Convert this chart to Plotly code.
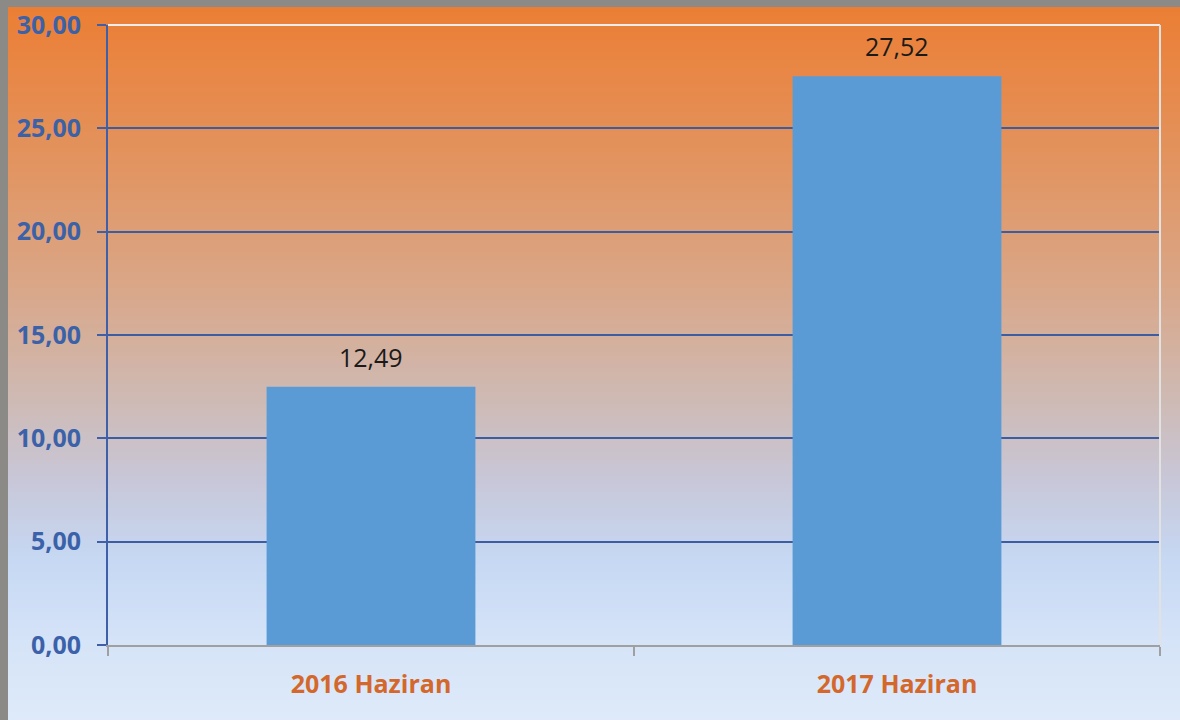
import plotly.graph_objects as go

categories = ["2016 Haziran", "2017 Haziran"]
values = [12.49, 27.52]
y_ticks = [0, 5, 10, 15, 20, 25, 30]

W, H = 1180, 720
L, R, T, B = 108, 20, 25, 75
pw, ph = W - L - R, H - T - B

def px_x(px):
    return (px - L) / pw

def px_y(py):
    return (H - B - py) / ph

stops = [
    (0, (236, 125, 50)),
    (150, (227, 146, 92)),
    (290, (217, 167, 137)),
    (400, (206, 186, 180)),
    (480, (200, 199, 216)),
    (560, (198, 216, 243)),
    (645, (214, 228, 248)),
    (720, (222, 234, 249)),
]

def col_at(py):
    for (a, ca), (b, cb) in zip(stops[:-1], stops[1:]):
        if a <= py <= b:
            t = (py - a) / (b - a)
            c = [round(ca[i] + (cb[i] - ca[i]) * t) for i in range(3)]
            return f"rgb({c[0]},{c[1]},{c[2]})"
    return "rgb(222,234,249)"

shapes = []
step = 4
for py in range(0, H, step):
    shapes.append(dict(type="rect", xref="paper", yref="paper", layer="below",
                       x0=px_x(-2), x1=px_x(W + 2), y0=px_y(py + step + 1), y1=px_y(py),
                       fillcolor=col_at(py + step / 2), line=dict(width=0)))
# gray outer frame (top and left)
shapes.append(dict(type="rect", xref="paper", yref="paper", layer="above",
                   x0=px_x(-2), x1=px_x(W + 2), y0=px_y(7), y1=px_y(-2),
                   fillcolor="#8c8a87", line=dict(width=0)))
shapes.append(dict(type="rect", xref="paper", yref="paper", layer="above",
                   x0=px_x(-2), x1=px_x(8), y0=px_y(H + 2), y1=px_y(-2),
                   fillcolor="#8c8a87", line=dict(width=0)))
# light plot-area border (top and right)
shapes.append(dict(type="line", xref="paper", yref="paper", layer="above",
                   x0=0, x1=1, y0=1, y1=1, line=dict(color="#ececec", width=2)))
shapes.append(dict(type="line", xref="paper", yref="paper", layer="above",
                   x0=1, x1=1, y0=0, y1=1, line=dict(color="#e2e2e2", width=2)))

fig = go.Figure()
fig.add_trace(go.Bar(x=categories, y=values, marker=dict(color="#5b9bd5", line=dict(width=0)),
                     hoverinfo="skip"))

annotations = []
for c, v in zip(categories, values):
    annotations.append(dict(x=c, y=v, xref="x", yref="y", text=f"{v:.2f}".replace(".", ","),
                            showarrow=False, yanchor="middle", yshift=30,
                            font=dict(family="Open Sans, sans-serif", size=25, color="#1a1a1a")))

fig.update_layout(
    width=W, height=H,
    margin=dict(l=L, r=R, t=T, b=B, pad=0, autoexpand=False),
    paper_bgcolor="rgb(222,234,249)",
    plot_bgcolor="rgba(0,0,0,0)",
    separators=",.",
    bargap=0.603,
    showlegend=False,
    hovermode=False,
    shapes=shapes,
    annotations=annotations,
    xaxis=dict(type="category", automargin=False, showgrid=False, showline=True,
               linecolor="#a0a0a0", linewidth=2,
               ticks="outside", tickson="boundaries", ticklen=9, tickcolor="#a0a0a0", tickwidth=2,
               ticklabelstandoff=16,
               tickfont=dict(family="Open Sans, sans-serif", size=25, color="#d4682c", weight="bold")),
    yaxis=dict(range=[0, 30], tickvals=y_ticks, tickformat=".2f", automargin=False, showgrid=True,
               gridcolor="#3d5da3", gridwidth=2, zeroline=False,
               showline=True, linecolor="#3f60a8", linewidth=2,
               ticks="outside", ticklen=9, tickcolor="#3f60a8", tickwidth=2,
               ticklabelstandoff=11, ticklabeloverflow="allow",
               tickfont=dict(family="Open Sans, sans-serif", size=25, color="#3b62a8", weight="bold")),
)

fig.write_html("out.html",
               config={"displayModeBar": False},
               post_script="document.body.style.margin='0';"
                           "document.body.style.overflow='hidden';"
                           "document.documentElement.style.overflow='hidden';")
